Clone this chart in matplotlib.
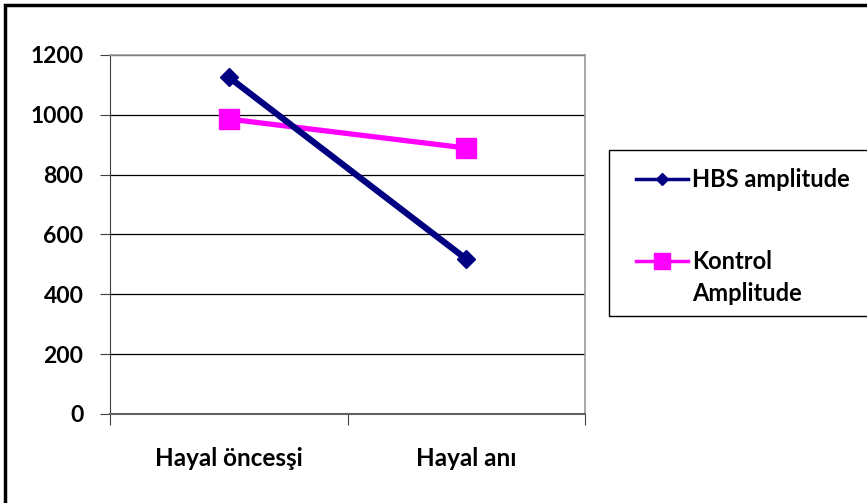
import matplotlib
matplotlib.use("Agg")
import matplotlib.pyplot as plt
from matplotlib.lines import Line2D
from matplotlib.patches import Rectangle

categories = ["Hayal öncesşi", "Hayal anı"]
hbs = [1126, 518]
kontrol = [986, 889]
yticks = [0, 200, 400, 600, 800, 1000, 1200]
series_names = ["HBS amplitude", "Kontrol\nAmplitude"]

plt.rcParams['font.family'] = ['Lato', 'DejaVu Sans']

W, H = 867, 503
fig = plt.figure(figsize=(W/100, H/100), dpi=100)
ax = fig.add_axes([110/W, 1-414/H, (585-110)/W, (414-55)/H])

x = list(range(len(categories)))
ax.plot(x, hbs, color='#000080', lw=4.5, marker='D', ms=9, mec='#000080', mfc='#000080', zorder=4)
ax.plot(x, kontrol, color='#FF00FF', lw=3.8, marker='s', ms=15, mec='#FF00FF', mfc='#FF00FF', zorder=3)

ax.set_xlim(-0.5, 1.5)
ax.set_ylim(0, 1200)
ax.set_yticks(yticks)
ax.set_yticklabels([str(v) for v in yticks], fontsize=16.5, fontweight='bold')
ax.grid(axis='y', color='black', lw=0.9)
ax.set_axisbelow(True)

ax.set_xticks([-0.5, 0.5, 1.5])
ax.set_xticklabels([])
ax.set_xticks(x, minor=True)
ax.set_xticklabels(categories, minor=True, fontsize=17.5, fontweight='bold')
ax.tick_params(axis='x', which='major', length=8, direction='out', color='#404040')
ax.tick_params(axis='x', which='minor', length=0, pad=24)
ax.tick_params(axis='y', length=7, direction='out', pad=12, color='#404040')

for s in ['top', 'right']:
    ax.spines[s].set_color('#999999')
    ax.spines[s].set_linewidth(1.2)
ax.spines['left'].set_color('#404040')
ax.spines['bottom'].set_color('#606060')
ax.spines['bottom'].set_linewidth(1.5)

# legend frame
fig.add_artist(Rectangle((609/W, 1-316/H), (W+20-609)/W, (316-150)/H,
                         transform=fig.transFigure, fill=False, ec='black', lw=1.0, clip_on=False))
handles = [Line2D([], [], color='#000080', lw=2.5, marker='D', ms=6),
           Line2D([], [], color='#FF00FF', lw=2.5, marker='s', ms=11)]
first_lines = [n.split("\n")[0] for n in series_names]
leg = fig.legend(handles, first_lines, loc='upper left', bbox_to_anchor=(624/W, 1-156/H),
                 frameon=False, handlelength=2.2, handletextpad=0.2,
                 labelspacing=2.5, borderpad=0, prop={'weight': 'bold', 'size': 17})

# continuation lines of multi-line legend labels
fig.canvas.draw()
for t, name in zip(leg.get_texts(), series_names):
    rest = name.split("\n")[1:]
    if rest:
        bb = t.get_window_extent()
        for i, line in enumerate(rest, start=1):
            fig.text(bb.x0 / W, (bb.y0 + bb.height / 2 - 32 * i) / H, line,
                     ha='left', va='center', fontsize=17, fontweight='bold')

# figure border
fig.add_artist(Rectangle((5/W, -0.05), 1.1, 1-5/H+0.05, transform=fig.transFigure,
                         fill=False, ec='black', lw=2.5, clip_on=False))

fig.savefig('out.png', dpi=100)
